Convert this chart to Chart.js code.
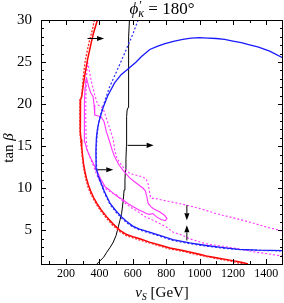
<!DOCTYPE html>
<html><head><meta charset="utf-8">
<script src="https://cdn.jsdelivr.net/npm/chart.js@4.4.1/dist/chart.umd.min.js"></script>
<style>html,body{margin:0;padding:0;background:#fff}</style>
</head><body>
<canvas id="c" width="284" height="303"></canvas>
<script>
// ---- tick labels ----
const xTickLabels = [200, 400, 600, 800, 1000, 1200, 1400];
const yTickLabels = [5, 10, 15, 20, 25, 30];

// ---- curves: [vS (GeV), tan beta] ----
const redSolid = [[388,30],[376,29.2],[364,28.4],[352,27.4],[341,26.4],[330,25.4],[321,24.4],[312,23.4],[305,22.5],[298,21.5],[293,20.8],[287,20.6],[286,18.5],[285,16.7],[290,15.8],[294,14.9],[299,13.9],[305,12.9],[313,12.0],[322,11.2],[334,10.4],[347,9.7],[365,8.9],[385,8.2],[412,7.4],[444,6.6],[480,5.8],[523,5.0],[563,4.5],[600,4.25],[642,4.0],[700,3.6],[760,3.25],[822,2.9],[900,2.6],[1000,2.15],[1040,1.95],[1100,1.75],[1198,1.4],[1250,1.2],[1290,1.0]];
const redDotted = [[370,30],[355,28.6],[341,27.6],[328,26.4],[315,25.2],[305,23.5],[298,22],[292,20.8],[284,20.5],[283,18],[284,16.5],[289,15.3],[293,14.6],[298,13.6],[304,12.6],[312,11.7],[321,10.9],[333,10.1],[347,9.4],[365,8.7],[385,8.0],[412,7.2],[444,6.4],[480,5.6],[523,4.85],[563,4.35],[642,3.85],[700,3.5],[760,3.15],[822,2.8],[900,2.5],[1000,2.05],[1100,1.65],[1198,1.3],[1260,1.0]];
const blueSolid = [[1500,2.6],[1350,2.65],[1237,2.75],[1140,2.95],[1039,3.2],[940,3.5],[840,3.9],[761,4.4],[700,4.8],[640,5.15],[600,5.5],[560,6.1],[533,6.6],[500,7.3],[464,8.2],[430,9.6],[404,10.95],[392,11.5],[384,12.2],[380,13.2],[379,14.5],[382,16.0],[388,17.0],[396,17.8],[404,18.4],[424,19.7],[450,21.0],[490,22.5],[530,23.5],[573,24.2],[620,25.0],[654,25.7],[702,26.5],[750,26.9],[793,27.2],[850,27.5],[900,27.7],[950,27.85],[1000,27.9],[1050,27.85],[1100,27.8],[1150,27.7],[1200,27.5],[1250,27.3],[1300,27.05],[1349,26.8],[1420,26.3],[1500,25.5]];
const blueDotted = [[632,30],[600,28.3],[563,26.6],[528,25.0],[493,23.45],[460,22.0],[424,19.9],[410,19.0],[400,18.2],[392,17.3],[386,16.2],[382,15.0],[381,13.5],[384,12.3],[392,11.4],[404,10.8],[430,9.45],[464,8.05],[500,7.15],[533,6.45],[560,5.95],[600,5.4],[640,5.05],[700,4.7],[761,4.3],[840,3.8],[940,3.42],[1039,3.12],[1140,2.88],[1237,2.7],[1350,2.62],[1500,2.55]];
const blackLine = [[385,1.0],[400,1.3],[425,1.8],[444,2.4],[465,3.0],[483,3.6],[500,4.4],[513,5.4],[523,6.2],[533,7.0],[543,8.6],[548,9.8],[553,11.0],[556,12.2],[559,13.5],[562,15.0],[563,15.6],[563,18.5],[566,19.3],[572,19.6],[573,22],[575,25],[577,28],[580,30]];
const magentaSolid = [[323,23.1],[337,22.0],[349,21.3],[362,20.9],[368,19.9],[372,18.7],[410,18.5],[428,17.9],[442,16.7],[462,15.5],[477,14.5],[490,13.8],[503,13.3],[520,12.7],[543,12.1],[583,11.2],[622,10.6],[662,10.0],[675,9.7],[682,9.2],[692,8.2],[710,7.8],[721,7.6],[760,7.2],[790,6.8],[805,6.4],[795,6.15],[770,6.3],[742,6.6],[720,7.0],[700,6.9],[680,7.0],[662,7.2],[640,7.4],[603,7.8],[570,8.2],[543,8.6],[510,9.0],[483,9.4],[460,9.8],[434,10.2],[410,11.0],[394,11.7],[375,12.5],[355,13.3],[340,13.9],[325,14.6],[313,15.5],[310,17.5],[310,20],[314,22],[318,22.8],[323,23.1]];
const magentaDottedUpper = [[329,25.0],[337,24.25],[345,23.4],[352,22.65],[362,21.9],[372,21.1],[382,20.4],[392,19.9],[408,19.7],[422,19.5],[432,18.9],[442,18.3],[452,17.7],[462,17.1],[472,16.5],[482,15.9],[492,14.5],[503,13.7],[520,13.1],[543,12.5],[583,11.75],[622,11.55],[660,11.35],[680,11.1],[692,10.5],[700,9.6],[706,9.0],[715,8.8],[730,8.8],[800,8.5],[900,8.1],[1000,7.6],[1099,7.0],[1200,6.5],[1297,6.0],[1400,5.4],[1500,4.9]];
const magentaDottedLower = [[1500,1.95],[1476,2.0],[1400,2.25],[1337,2.4],[1237,2.8],[1140,3.1],[1039,3.4],[940,4.0],[900,4.4],[840,4.8],[801,5.4],[761,5.8],[742,6.0],[702,6.4],[682,6.5],[632,7.2],[583,7.8],[543,8.4],[503,9.2],[464,9.6],[434,10.0],[410,10.6],[390,11.3],[365,12.6],[345,13.6],[328,14.5],[320,16],[318,18.5],[319,21],[322,23],[329,25.0]];

// ---- arrows: [v0, t0, v1, t1] (head at v1,t1) ----
const arrows = [[329,27.8,428,27.8],[569,15.1,725,15.1],[388,12.2,483,12.2],[924,8.0,924,6.2],[924,3.8,924,5.6]];

const SERIF = '"Liberation Serif", "DejaVu Serif", serif';
const toPts = a => a.map(p => ({x: p[0], y: p[1]}));
function ds(arr, color, width, dash) {
  return {data: toPts(arr), borderColor: color, borderWidth: width, borderDash: dash || [],
    showLine: true, pointRadius: 0, pointHoverRadius: 0, fill: false, tension: 0};
}

const decor = {
  id: 'decor',
  afterDraw(chart) {
    const c = chart.ctx, a = chart.chartArea, xs = chart.scales.x, ys = chart.scales.y;
    c.save();
    // arrows
    c.strokeStyle = '#000'; c.fillStyle = '#000'; c.lineWidth = 1;
    arrows.forEach(r => {
      const x0 = xs.getPixelForValue(r[0]), y0 = ys.getPixelForValue(r[1]);
      const x1 = xs.getPixelForValue(r[2]), y1 = ys.getPixelForValue(r[3]);
      const ang = Math.atan2(y1 - y0, x1 - x0), L = 7, W = 2.6;
      const bx = x1 - L * Math.cos(ang), by = y1 - L * Math.sin(ang);
      c.beginPath(); c.moveTo(x0, y0); c.lineTo(bx, by); c.stroke();
      c.beginPath(); c.moveTo(x1, y1);
      c.lineTo(bx + W * Math.sin(ang), by - W * Math.cos(ang));
      c.lineTo(bx - W * Math.sin(ang), by + W * Math.cos(ang));
      c.closePath(); c.fill();
    });
    // frame
    c.lineWidth = 1; c.strokeStyle = '#000';
    c.strokeRect(Math.round(a.left) + 0.5, Math.round(a.top) + 0.5, Math.round(a.right - a.left) - 1, Math.round(a.bottom - a.top));
    // inward ticks
    c.beginPath();
    for (let v = 100; v < 1500; v += 100) {
      const px = Math.round(xs.getPixelForValue(v)) + 0.5, len = (v % 200 === 0) ? 5 : 3;
      c.moveTo(px, a.bottom); c.lineTo(px, a.bottom - len);
      c.moveTo(px, a.top); c.lineTo(px, a.top + len);
    }
    for (let t = 2; t < 30; t += 1) {
      const py = Math.round(ys.getPixelForValue(t)) + 0.5, len = (t % 5 === 0) ? 5 : 3;
      c.moveTo(a.left, py); c.lineTo(a.left + len, py);
      c.moveTo(a.right, py); c.lineTo(a.right - len, py);
    }
    c.stroke();
    // texts
    c.fillStyle = '#000'; c.textBaseline = 'alphabetic'; c.textAlign = 'left';
    const cx = (a.left + a.right) / 2;
    // title: phi'_kappa = 180°
    const fBig = '17px ' + SERIF, fBigI = 'italic 17px ' + SERIF, fSm = '12px ' + SERIF, fSmI = 'italic 12px ' + SERIF;
    c.font = fBigI; const w1 = c.measureText('ϕ').width;
    c.font = fSm; const w2 = c.measureText('′').width;
    c.font = fSmI; const w3 = c.measureText('κ').width;
    c.font = fBig; const w4 = c.measureText(' = 180°').width;
    const wsub = Math.max(w2, w3);
    let x = cx - (w1 + wsub + w4) / 2; const ty = 14;
    c.font = fBigI; c.fillText('ϕ', x, ty); x += w1;
    c.font = fSm; c.fillText('′', x + 1, ty - 5);
    c.font = fSmI; c.fillText('κ', x, ty + 3); x += wsub;
    c.font = fBig; c.fillText(' = 180°', x, ty);
    // x title
    const f15 = '15px ' + SERIF, f15I = 'italic 15px ' + SERIF, f10I = 'italic 10px ' + SERIF;
    c.font = f15I; const a1 = c.measureText('v').width;
    c.font = f10I; const a2 = c.measureText('S').width;
    c.font = f15; const a3 = c.measureText(' [GeV]').width;
    x = cx - (a1 + a2 + a3) / 2; const xy = 297;
    c.font = f15I; c.fillText('v', x, xy); x += a1;
    c.font = f10I; c.fillText('S', x, xy + 3); x += a2;
    c.font = f15; c.fillText(' [GeV]', x, xy);
    // y title
    c.save();
    c.translate(13, 148); c.rotate(-Math.PI / 2);
    c.font = f15; const b1 = c.measureText('tan ').width;
    c.font = f15I; const b2 = c.measureText('β').width;
    x = -(b1 + b2) / 2;
    c.font = f15; c.fillText('tan ', x, 0);
    c.font = f15I; c.fillText('β', x + b1, 0);
    c.restore();
    c.restore();
  }
};

new Chart(document.getElementById('c').getContext('2d'), {
  type: 'scatter',
  data: {datasets: [
    ds(redDotted, '#ff2020', 1.3, [2, 1.5]),
    ds(redSolid, '#ff0000', 1.5),
    ds(blueDotted, '#2a2aff', 1.2, [2, 2]),
    ds(blueSolid, '#1a1aff', 1.3),
    ds(magentaDottedUpper, '#ff33ff', 1.1, [2, 2]),
    ds(magentaDottedLower, '#ff33ff', 1.1, [2, 2]),
    ds(magentaSolid, '#ff33ff', 1.1),
    ds(blackLine, '#000000', 1)
  ]},
  options: {
    responsive: false, animation: false, devicePixelRatio: 1,
    layout: {padding: {top: 20, right: 1, left: 0, bottom: 0}},
    plugins: {legend: {display: false}, tooltip: {enabled: false}, title: {display: false}},
    scales: {
      x: {type: 'linear', min: 50, max: 1500,
        afterBuildTicks: s => { s.ticks = xTickLabels.map(v => ({value: v})); },
        afterFit: s => { s.height = 39; },
        grid: {display: false, drawTicks: false}, border: {display: false},
        ticks: {padding: 3, color: '#000', maxRotation: 0, autoSkip: false, font: {family: SERIF, size: 12},
          callback: v => String(v)}},
      y: {type: 'linear', min: 1, max: 30,
        afterBuildTicks: s => { s.ticks = yTickLabels.map(v => ({value: v})); },
        afterFit: s => { s.width = 41; },
        grid: {display: false, drawTicks: false}, border: {display: false},
        ticks: {padding: 9, color: '#000', autoSkip: false, font: {family: SERIF, size: 15},
          callback: v => String(v)}}
    }
  },
  plugins: [decor]
});
</script>
</body></html>
